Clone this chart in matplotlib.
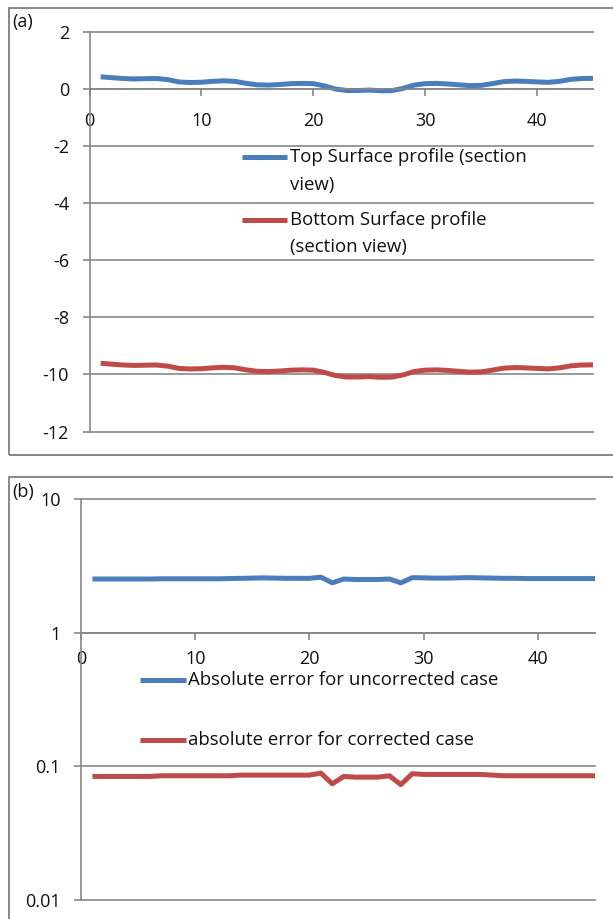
import matplotlib
matplotlib.use("Agg")
import matplotlib.pyplot as plt
from matplotlib.lines import Line2D
from matplotlib.patches import Rectangle

plt.rcParams['font.family'] = ['Open Sans', 'DejaVu Sans']

# ---------------- data ----------------
x_pos = list(range(1, 46))

top_surface = [0.43, 0.40, 0.37, 0.355, 0.365, 0.37, 0.33, 0.25, 0.23, 0.24,
               0.27, 0.29, 0.27, 0.20, 0.15, 0.14, 0.16, 0.19, 0.20, 0.19,
               0.11, 0.00, -0.05, -0.05, -0.035, -0.06, -0.055, 0.02, 0.14, 0.19,
               0.20, 0.18, 0.15, 0.12, 0.13, 0.19, 0.26, 0.28, 0.27, 0.25,
               0.235, 0.27, 0.34, 0.37, 0.375]
bottom_surface = [-9.61, -9.64, -9.67, -9.685, -9.675, -9.67, -9.71, -9.79, -9.81, -9.80,
                  -9.77, -9.75, -9.77, -9.84, -9.89, -9.90, -9.88, -9.85, -9.84, -9.85,
                  -9.93, -10.04, -10.09, -10.09, -10.075, -10.10, -10.095, -10.02, -9.90, -9.85,
                  -9.84, -9.86, -9.89, -9.92, -9.91, -9.85, -9.78, -9.76, -9.77, -9.79,
                  -9.805, -9.77, -9.70, -9.67, -9.665]

err_uncorrected = [2.52, 2.52, 2.52, 2.52, 2.52, 2.52, 2.53, 2.53, 2.53, 2.53,
                   2.53, 2.53, 2.54, 2.55, 2.56, 2.57, 2.56, 2.55, 2.55, 2.55,
                   2.60, 2.36, 2.52, 2.50, 2.50, 2.50, 2.52, 2.36, 2.58, 2.57,
                   2.56, 2.56, 2.57, 2.58, 2.57, 2.56, 2.55, 2.55, 2.54, 2.54,
                   2.54, 2.54, 2.54, 2.54, 2.54]
err_corrected = [0.084, 0.084, 0.084, 0.084, 0.084, 0.084, 0.085, 0.085, 0.085, 0.085,
                 0.085, 0.085, 0.085, 0.086, 0.086, 0.086, 0.086, 0.086, 0.086, 0.086,
                 0.089, 0.074, 0.084, 0.083, 0.083, 0.083, 0.085, 0.073, 0.088, 0.087,
                 0.087, 0.087, 0.087, 0.087, 0.087, 0.086, 0.085, 0.085, 0.085, 0.085,
                 0.085, 0.085, 0.085, 0.085, 0.085]

a_yticks = [2, 0, -2, -4, -6, -8, -10, -12]
a_yticklabels = ["2", "0", "-2", "-4", "-6", "-8", "-10", "-12"]
b_yticks = [0.01, 0.1, 1, 10]
b_yticklabels = ["0.01", "0.1", "1", "10"]
x_ticks = [0, 10, 20, 30, 40]
x_ticklabels = ["0", "10", "20", "30", "40"]

label_top = "Top Surface profile (section"
label_top2 = "view)"
label_bot = "Bottom Surface profile"
label_bot2 = "(section view)"
label_unc = "Absolute error for uncorrected case"
label_cor = "absolute error for corrected case"

# ---------------- style ----------------
W, H = 613, 919
BLUE = '#4A7EBB'
RED = '#BE4B48'
GRID = '#878787'
TXT = '#111111'
LW = 3.6
TFS = 13.0
LFS = 13.4

def fx(px):
    return px / W

def fy(py):
    return 1 - py / H

fig = plt.figure(figsize=(W / 100, H / 100), dpi=100)

# panel borders
fig.add_artist(Rectangle((fx(9), fy(455)), 1.2, fy(8) - fy(455), transform=fig.transFigure,
                         fill=False, edgecolor=GRID, linewidth=1.4))
fig.add_artist(Rectangle((fx(9), fy(960)), 1.2, fy(477) - fy(960), transform=fig.transFigure,
                         fill=False, edgecolor=GRID, linewidth=1.4))


def style_axes(ax):
    for s in ['top', 'right']:
        ax.spines[s].set_visible(False)
    for s in ['left', 'bottom']:
        ax.spines[s].set_color(GRID)
        ax.spines[s].set_linewidth(1.2)
    ax.grid(axis='y', color=GRID, linewidth=1.2)
    ax.grid(axis='x', visible=False)
    ax.set_axisbelow(True)
    ax.tick_params(axis='both', direction='out', length=4.7, width=1.2, color=GRID,
                   labelcolor=TXT, labelsize=TFS)
    ax.set_facecolor('none')


# ---------------- panel (a) ----------------
ax_a = fig.add_axes([fx(89.5), fy(431.5), (593 - 89.5) / W, (431.5 - 32) / H])
style_axes(ax_a)
ax_a.plot(x_pos, top_surface, color=BLUE, lw=LW, solid_capstyle='butt', solid_joinstyle='round')
ax_a.plot(x_pos, bottom_surface, color=RED, lw=LW, solid_capstyle='butt', solid_joinstyle='round')
ax_a.set_xlim(0, 45)
ax_a.set_ylim(-12, 2)
ax_a.set_yticks(a_yticks)
ax_a.set_yticklabels(a_yticklabels)
ax_a.set_xticks(x_ticks)
ax_a.set_xticklabels(x_ticklabels)
ax_a.spines['bottom'].set_position(('data', 0))
ax_a.tick_params(axis='y', pad=10)
ax_a.tick_params(axis='x', pad=11.5)
for gl in ax_a.get_ygridlines():
    gl.set_clip_on(False)

# ---------------- panel (b) ----------------
ax_b = fig.add_axes([fx(81), fy(900), (595 - 81) / W, (900 - 499) / H])
style_axes(ax_b)
ax_b.set_yscale('log')
ax_b.plot(x_pos, err_uncorrected, color=BLUE, lw=LW, solid_capstyle='butt', solid_joinstyle='round')
ax_b.plot(x_pos, err_corrected, color=RED, lw=LW, solid_capstyle='butt', solid_joinstyle='round')
ax_b.set_xlim(0, 45)
ax_b.set_ylim(0.01, 10)
ax_b.set_yticks(b_yticks)
ax_b.set_yticklabels(b_yticklabels)
ax_b.yaxis.set_minor_locator(matplotlib.ticker.NullLocator())
ax_b.set_xticks(x_ticks)
ax_b.set_xticklabels(x_ticklabels)
ax_b.spines['bottom'].set_position(('data', 1))
ax_b.tick_params(axis='y', pad=10)
ax_b.tick_params(axis='x', pad=8)
for gl in ax_b.get_ygridlines():
    gl.set_clip_on(False)

# ---------------- panel labels ----------------
fig.text(fx(12), fy(22), "(a)", fontsize=TFS, color=TXT, va='center', ha='left')
fig.text(fx(12), fy(492), "(b)", fontsize=TFS, color=TXT, va='center', ha='left')

# ---------------- legends ----------------
def legend_entry(x0, x1, y, color, lines, tx, dy):
    fig.add_artist(Line2D([fx(x0), fx(x1)], [fy(y), fy(y)], transform=fig.transFigure,
                          color=color, lw=LW, solid_capstyle='butt'))
    for i, t in enumerate(lines):
        fig.text(fx(tx), fy(y + i * dy), t, fontsize=LFS, color=TXT, va='center', ha='left')

legend_entry(242, 287, 157, BLUE, [label_top, label_top2], 290, 28)
legend_entry(242, 287, 220, RED, [label_bot, label_bot2], 290, 27)
legend_entry(140, 186, 680, BLUE, [label_unc], 188, 0)
legend_entry(140, 186, 740, RED, [label_cor], 188, 0)

fig.savefig("out.png", dpi=100)
